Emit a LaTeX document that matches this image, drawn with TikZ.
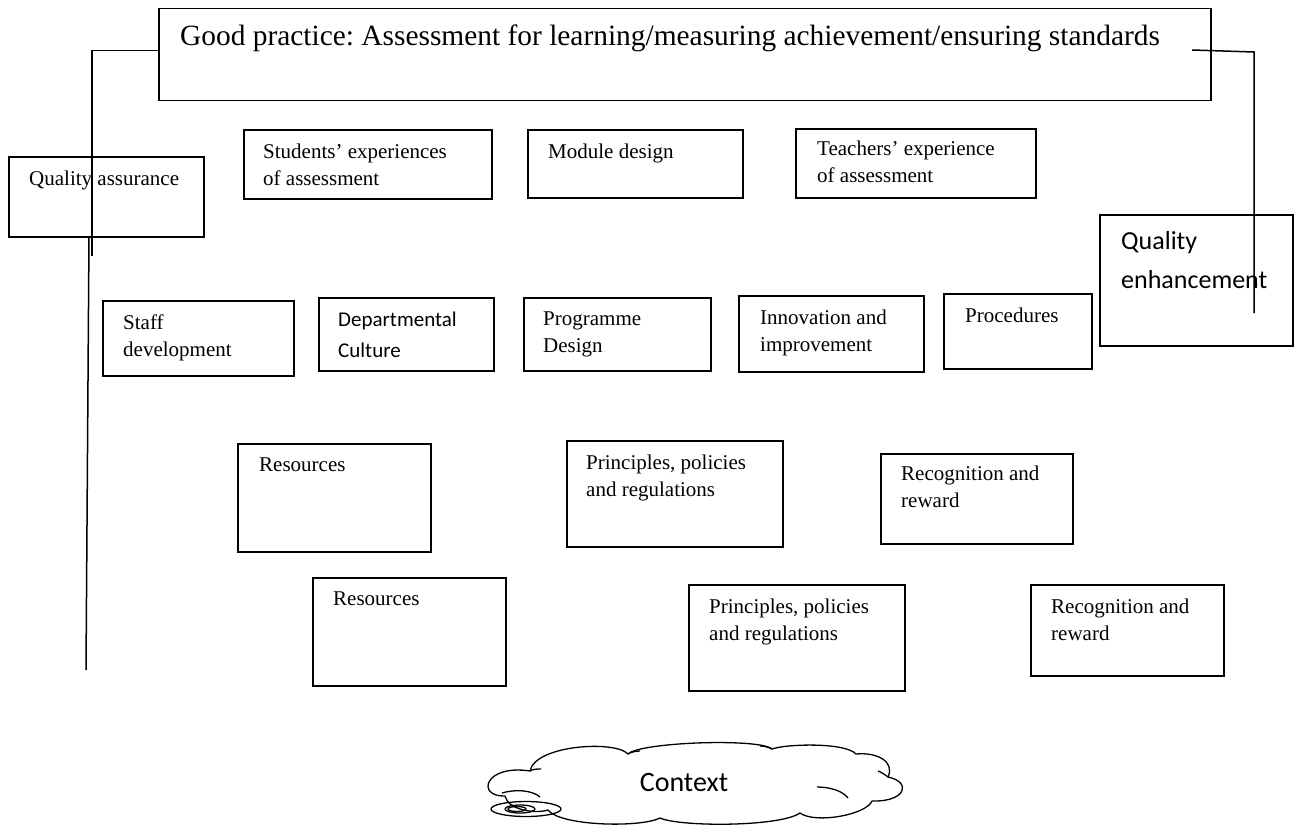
\documentclass[tikz,border=0pt]{standalone}
\usepackage{fontspec}
\setmainfont{Liberation Serif}
\newfontfamily\calibri{Carlito}
\usepackage{tikz}
\usetikzlibrary{positioning}
\frenchspacing

\begin{document}
\begin{tikzpicture}[x=1pt,y=-1pt,
        box/.style={draw, line width=1.5pt, anchor=north west, inner sep=0pt},
        txt/.style={anchor=north west, inner sep=0pt, align=left, font=\fontsize{21}{27}\selectfont},
        sanstxt/.style={txt, font=\calibri\fontsize{21}{31}\selectfont},
        link/.style={line width=1.5pt},
        awan/.style={line width=1.3pt, line join=round}]
        \useasboundingbox (0,0) rectangle (1297,824);
        %KOTAK ATAS
        \node[box, minimum width=1052pt, minimum height=92pt] (good) at (158,8) {};
        \node[txt, font=\fontsize{29.4}{34}\selectfont, below right=17pt and 22pt of good.north west] (goodT) {Good practice: Assessment for learning/measuring achievement/ensuring standards};
        %BARIS 1
        \node[box, minimum width=195pt, minimum height=80pt] (qa) at (8,156) {};
        \node[txt, below right=15pt and 21pt of qa.north west] (qaT) {Quality assurance};
        \node[box, minimum width=248pt, minimum height=69pt] (stud) at (243,129) {};
        \node[txt, below right=15pt and 20pt of stud.north west] (studT) {Students’ experiences\\of assessment};
        \node[box, minimum width=215pt, minimum height=68pt] (mod) at (527,129) {};
        \node[txt, below right=15pt and 21pt of mod.north west] (modT) {Module design};
        \node[box, minimum width=240pt, minimum height=69pt] (teach) at (795,128) {};
        \node[txt, below right=13pt and 22pt of teach.north west] (teachT) {Teachers’ experience\\of assessment};
        \node[box, minimum width=193pt, minimum height=131pt] (qe) at (1099,214) {};
        \node[sanstxt, font=\calibri\fontsize{26}{39}\selectfont, below right=17pt and 22pt of qe.north west] (qeT) {Quality\\enhancement};
        %BARIS 2
        \node[box, minimum width=191pt, minimum height=75pt] (staff) at (102,300) {};
        \node[txt, below right=15pt and 21pt of staff.north west] (staffT) {Staff\\development};
        \node[box, minimum width=175pt, minimum height=73pt] (dept) at (318,297) {};
        \node[sanstxt, below right=15pt and 20pt of dept.north west] (deptT) {Departmental\\Culture};
        \node[box, minimum width=187pt, minimum height=73pt] (prog) at (523,297) {};
        \node[txt, below right=15pt and 20pt of prog.north west] (progT) {Programme\\Design};
        \node[box, minimum width=185pt, minimum height=76pt] (innov) at (738,295) {};
        \node[txt, below right=15pt and 22pt of innov.north west] (innovT) {Innovation and\\improvement};
        \node[box, minimum width=148pt, minimum height=75pt] (proc) at (943,293) {};
        \node[txt, below right=15pt and 22pt of proc.north west] (procT) {Procedures};
        %BARIS 3
        \node[box, minimum width=193pt, minimum height=108pt] (resA) at (237,443) {};
        \node[txt, below right=15pt and 22pt of resA.north west] (resAT) {Resources};
        \node[box, minimum width=216pt, minimum height=106pt] (prinA) at (566,440) {};
        \node[txt, below right=15pt and 20pt of prinA.north west] (prinAT) {Principles, policies\\and regulations};
        \node[box, minimum width=192pt, minimum height=90pt] (recA) at (880,453) {};
        \node[txt, below right=13pt and 21pt of recA.north west] (recAT) {Recognition and\\reward};
        %BARIS 4
        \node[box, minimum width=193pt, minimum height=108pt] (resB) at (312,577) {};
        \node[txt, below right=15pt and 21pt of resB.north west] (resBT) {Resources};
        \node[box, minimum width=216pt, minimum height=106pt] (prinB) at (688,584) {};
        \node[txt, below right=15pt and 21pt of prinB.north west] (prinBT) {Principles, policies\\and regulations};
        \node[box, minimum width=193pt, minimum height=91pt] (recB) at (1030,584) {};
        \node[txt, below right=15pt and 21pt of recB.north west] (recBT) {Recognition and\\reward};
        %GARIS KIRI
        \coordinate (qaEnd) at (92,256);
        \coordinate (qaLowA) at (89,236);
        \coordinate (qaLowB) at (86,670);
        \draw[link] ([yshift=4pt]good.west) -| (qaEnd);
        \draw[link] (qaLowA) -- (qaLowB);
        %GARIS KANAN
        \coordinate (gpR) at (1192,50);
        \coordinate (qeTurn) at (1254,52);
        \coordinate (qeEnd) at (1254,313);
        \draw[link] (gpR) -- (qeTurn) -- (qeEnd);
        %AWAN
        \draw[awan] (505,796) .. controls (476,797) and (484,764) .. (530,771)
            .. controls (535,745) and (615,740) .. (628,754)
            .. controls (640,742) and (760,738) .. (772,749)
            .. controls (785,744) and (845,742) .. (856,754)
            .. controls (878,752) and (895,762) .. (888,777)
            .. controls (912,782) and (906,802) .. (872,801)
            .. controls (866,815) and (815,824) .. (800,813)
            .. controls (780,827) and (680,827) .. (660,818)
            .. controls (640,828) and (560,826) .. (548,810)
            .. controls (535,814) and (508,810) .. (505,796) -- cycle;
        \draw[awan] (502,793) .. controls (515,789) and (532,790) .. (540,797);
        \draw[awan] (817,787) .. controls (830,787) and (843,791) .. (848,798);
        \draw[awan] (530,771) .. controls (533,769) and (537,769) .. (541,769);
        \draw[awan] (628,754) .. controls (631,752) and (636,751) .. (640,751);
        \draw[awan] (772,749) .. controls (768,747) and (764,746) .. (760,746);
        \draw[awan] (888,777) .. controls (884,774) and (881,772) .. (878,771);
        \node[font=\calibri\fontsize{28}{32}\selectfont, inner sep=0pt] (ctx) at (684,783) {Context};
        %EKOR AWAN
        \draw[awan] (526,809) ellipse (35 and 7.5);
        \draw[awan] (520,809) ellipse (15 and 4);
        \draw[awan] (517,809) ellipse (9 and 2.5);
    \end{tikzpicture}
\end{document}
